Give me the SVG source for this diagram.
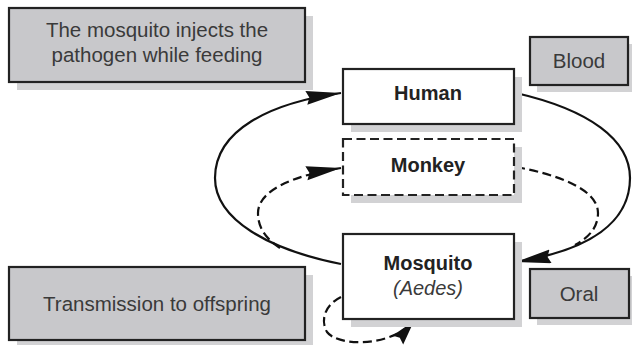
<svg xmlns="http://www.w3.org/2000/svg" width="632" height="345" viewBox="0 0 632 345">
<style>
.sh{fill:#d2d2d4;stroke:none}
.note{fill:#c8c8cb;stroke:#222;stroke-width:2.2}
.node{fill:#fff;stroke:#222;stroke-width:2.2}
.dash{stroke-dasharray:9,4.5}
.t{font-family:"Liberation Sans",Arial,sans-serif;fill:#3a3a3a;font-size:20.5px;text-anchor:middle}
.b{font-family:"Liberation Sans",Arial,sans-serif;fill:#222;font-size:20px;font-weight:bold;text-anchor:middle}
.i{font-style:italic;font-weight:normal;fill:#3a3a3a}
.c{fill:none;stroke:#111;stroke-width:2.2}
</style>
<defs>
<marker id="ah" markerUnits="userSpaceOnUse" markerWidth="38" markerHeight="16" refX="35" refY="7" orient="auto">
<path d="M0,0 L35,7 L0,14 L3,7 z" fill="#111" stroke="none"/>
</marker>
<marker id="ahs" markerUnits="userSpaceOnUse" markerWidth="28" markerHeight="16" refX="25" refY="7" orient="auto">
<path d="M0,0 L25,7 L0,14 L3,7 z" fill="#111" stroke="none"/>
</marker>
</defs>

<g id="connectors">
<path class="c" d="M341,264 C270,250 215,220 215,178 C215,130 270,103 341,93" marker-end="url(#ah)"/>
<path class="c" d="M516,93 C590,110 630,140 630,178 C630,222 590,250 516,262" marker-end="url(#ah)"/>
<path class="c dash" d="M280,248 C268,240 258,230 258,213 C258,190 295,175 341,168" marker-end="url(#ah)"/>
<path class="c dash" d="M516,167 C560,175 598,190 598,213 C598,228 588,238 575,245"/>
<path class="c dash" d="M341,297 C325,305 320,320 327,332 C338,347 392,347 414,321" marker-end="url(#ahs)"/>
</g>

<g id="note-inject">
<rect class="sh" x="17" y="16" width="296" height="74"/>
<rect class="note" x="9" y="8" width="296" height="74"/>
<text class="t" x="157" y="37">The mosquito injects the</text>
<text class="t" x="157" y="62">pathogen while feeding</text>
</g>

<g id="note-blood">
<rect class="sh" x="537" y="44" width="98" height="48"/>
<rect class="note" x="530" y="37" width="98" height="48"/>
<text class="t" x="579" y="68">Blood</text>
</g>

<g id="human">
<rect class="sh" x="351" y="77" width="171" height="55"/>
<rect class="node" x="343" y="69" width="171" height="55"/>
<text class="b" x="428" y="100">Human</text>
</g>

<g id="monkey">
<rect class="sh" x="351" y="147" width="171" height="56"/>
<rect class="node dash" x="343" y="139" width="171" height="56"/>
<text class="b" x="428" y="172">Monkey</text>
</g>

<g id="mosquito">
<rect class="sh" x="351" y="242" width="171" height="85"/>
<rect class="node" x="343" y="234" width="171" height="85"/>
<text class="b" x="428" y="270">Mosquito</text>
<text class="b i" x="428" y="295">(Aedes)</text>
</g>

<g id="note-transmission">
<rect class="sh" x="17" y="275" width="296" height="73"/>
<rect class="note" x="9" y="267" width="296" height="73"/>
<text class="t" x="157" y="311">Transmission to offspring</text>
</g>

<g id="note-oral">
<rect class="sh" x="537" y="276" width="99" height="49"/>
<rect class="note" x="530" y="269" width="99" height="49"/>
<text class="t" x="579" y="301">Oral</text>
</g>
</svg>
